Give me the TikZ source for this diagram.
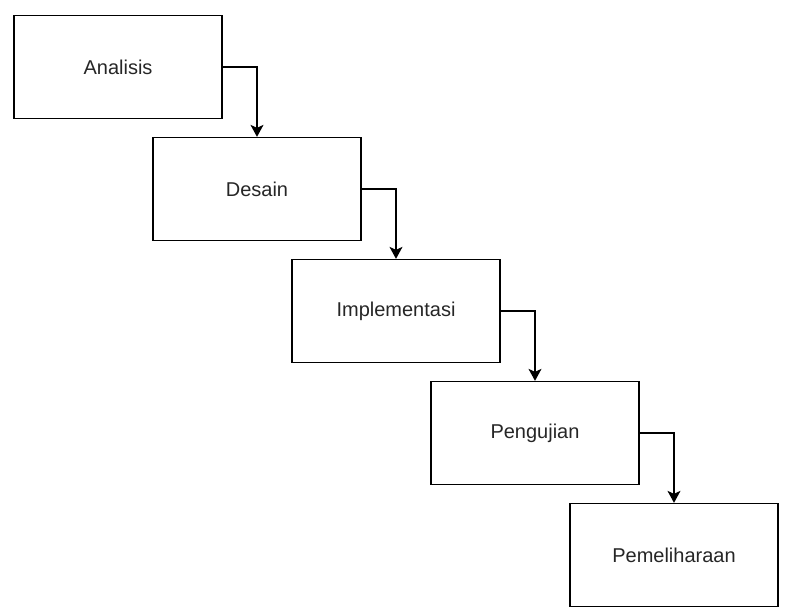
\documentclass[tikz,border=0pt]{standalone}
\usepackage{fontspec}
\setmainfont{Liberation Sans}
\usepackage{tikz}
\usetikzlibrary{arrows.meta,positioning}

\tikzset{
    stage/.style={draw=black, line width=1.3pt, minimum width=208pt, minimum height=103pt,
        inner sep=0pt, font=\fontsize{20}{24}\selectfont, text=black!85},
    flow/.style={line width=1.3pt, -{Stealth[length=12pt, width=13pt, inset=3pt]}}
}

\begin{document}
\begin{tikzpicture}[x=1pt, y=1pt]
    \useasboundingbox (0,0) rectangle (787,-612);

    % Waterfall stages
    \node[stage] (analisis) at (118,-67) {Analisis};
    \node[stage, below right=17.7pt and -70.3pt of analisis] (desain) {Desain};
    \node[stage, below right=17.7pt and -70.3pt of desain] (implementasi) {Implementasi};
    \node[stage, below right=17.7pt and -70.3pt of implementasi] (pengujian) {Pengujian};
    \node[stage, below right=17.7pt and -70.3pt of pengujian] (pemeliharaan) {Pemeliharaan};

    % Connectors
    \foreach \a/\b in {analisis/desain, desain/implementasi, implementasi/pengujian, pengujian/pemeliharaan} {
        \draw[flow] (\a.east) -| (\b.north);
    }
\end{tikzpicture}
\end{document}
